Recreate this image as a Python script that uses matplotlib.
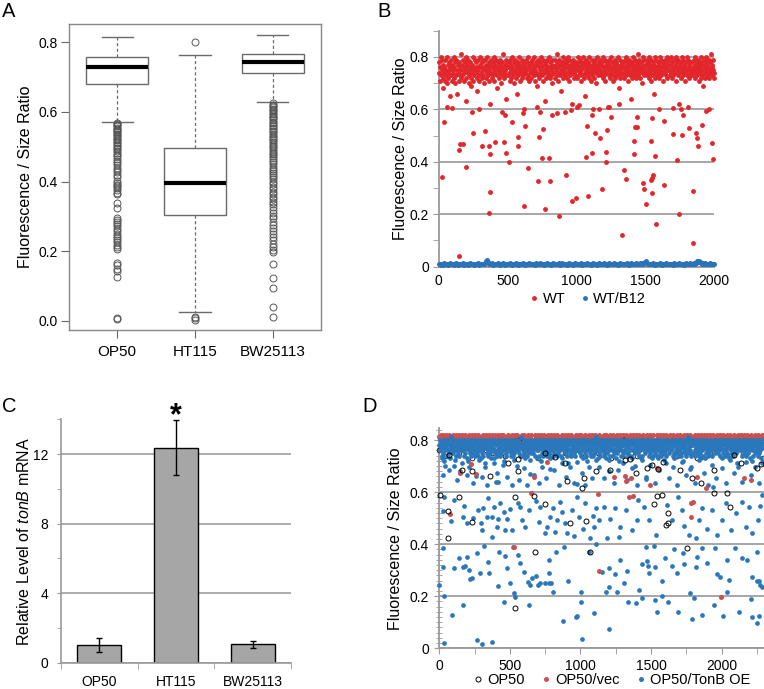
import numpy as np
import matplotlib
matplotlib.use("Agg")
import matplotlib.pyplot as plt
from matplotlib.lines import Line2D
from matplotlib.ticker import FixedLocator, MultipleLocator

plt.rcParams['font.family'] = ['Liberation Sans', 'DejaVu Sans']
plt.rcParams['mathtext.fontset'] = 'custom'
plt.rcParams['mathtext.rm'] = 'Liberation Sans'
plt.rcParams['mathtext.it'] = 'Liberation Sans:italic'

# ================= DATA =================
# ---- Panel A: box plot summaries
a_groups = ["OP50", "HT115", "BW25113"]
a_q1 = [0.680, 0.305, 0.710]
a_med = [0.730, 0.395, 0.742]
a_q3 = [0.757, 0.495, 0.766]
a_whislo = [0.570, 0.025, 0.627]
a_whishi = [0.815, 0.762, 0.820]
a_fliers_op50 = [0.568, 0.565, 0.561, 0.558, 0.555, 0.551, 0.548, 0.544, 0.541, 0.537,
                 0.534, 0.530, 0.526, 0.522, 0.518, 0.514, 0.510, 0.505, 0.501, 0.497,
                 0.492, 0.487, 0.482, 0.477, 0.472, 0.466, 0.460, 0.454, 0.447, 0.440,
                 0.433, 0.426, 0.420, 0.412, 0.401, 0.396, 0.390, 0.386, 0.381, 0.376,
                 0.368, 0.363, 0.337, 0.323, 0.296, 0.290, 0.284, 0.279, 0.272, 0.265,
                 0.258, 0.250, 0.245, 0.239, 0.232, 0.226, 0.219, 0.213, 0.207, 0.167,
                 0.160, 0.150, 0.142, 0.127, 0.008, 0.006]
a_fliers_ht115 = [0.800, 0.012, 0.008, 0.004]
a_fliers_bw = [0.625, 0.621, 0.617, 0.613, 0.609, 0.605, 0.601, 0.597, 0.593, 0.589,
               0.585, 0.581, 0.576, 0.572, 0.568, 0.563, 0.559, 0.555, 0.550, 0.546,
               0.541, 0.537, 0.532, 0.527, 0.523, 0.518, 0.513, 0.508, 0.503, 0.498,
               0.493, 0.488, 0.483, 0.478, 0.472, 0.467, 0.461, 0.455, 0.449, 0.443,
               0.437, 0.431, 0.425, 0.419, 0.412, 0.406, 0.399, 0.392, 0.385, 0.378,
               0.371, 0.364, 0.357, 0.349, 0.342, 0.335, 0.327, 0.319, 0.311, 0.302,
               0.294, 0.285, 0.276, 0.267, 0.258, 0.249, 0.240, 0.231, 0.222, 0.213,
               0.204, 0.197, 0.163, 0.124, 0.094, 0.041, 0.011]
a_yticks = [0.0, 0.2, 0.4, 0.6, 0.8]

# ---- Panel B: WT cells (sample order), values x100 in the dense band
b_wt_band = """
74 78 71 76 80 73 75 79 72 77 68 74 76 79 71 75 73 80 70 77 74 72 78 75 65 76 79 73 71 77 75 74 80 72 76 78 70 73 79 75 66 74 77 71 78 76 73 75 81 72
77 73 79 75 71 74 78 76 63 80 72 75 77 74 79 70 73 76 78 75 72 69 77 74 80 71 76 73 79 75 74 78 72 67 76 75 79 73 71 77 80 74 76 72 78 75 73 79 70 76
75 79 72 77 74 80 76 73 78 71 75 62 77 79 74 72 76 78 73 75 80 71 77 74 79 76 73 68 75 78 72 76 74 79 77 70 75 73 78 76 81 74 72 77 75 79 73 64 76 78
73 76 78 74 71 79 75 77 72 80 76 73 74 78 70 75 79 77 72 76 74 66 78 73 75 80 77 71 76 74 79 72 75 78 73 77 60 76 74 79 75 72 78 73 80 76 71 77 74 75
78 72 75 79 74 77 73 76 80 71 75 78 74 69 77 73 79 76 72 75 78 74 80 76 73 77 71 79 75 74 63 78 76 72 77 75 79 73 74 80 76 72 78 75 73 77 79 70 76 74
76 74 79 72 77 75 81 73 78 76 71 74 79 77 73 75 67 78 76 72 80 74 77 75 79 73 76 78 72 74 77 80 75 71 79 76 73 77 74 78 62 75 79 72 76 74 77 73 78 75
72 77 75 80 73 76 78 74 79 71 75 77 73 76 80 72 78 74 65 77 75 79 73 76 74 78 72 80 75 77 71 76 79 74 73 77 75 78 72 76 79 74 70 77 75 80 73 76 78 74
79 75 73 77 74 78 72 76 80 75 73 79 71 77 74 76 78 61 75 73 79 77 72 76 74 80 75 78 73 71 77 76 79 74 72 75 78 73 77 80 76 74 68 79 75 72 77 73 76 78
74 78 76 72 79 75 77 73 80 74 76 71 78 75 79 73 77 74 64 76 78 72 75 80 77 73 79 74 76 72 78 75 81 73 77 74 79 76 72 75 78 70 77 74 80 76 73 79 75 77
77 74 79 73 76 78 72 75 80 74 77 71 79 76 73 78 75 66 77 74 80 72 76 79 75 73 78 74 77 72 76 80 75 79 73 74 78 76 71 77 75 79 74 73 78 76 80 72 75 77
75 79 73 77 74 80 76 72 78 75 73 79 76 74 77 71 80 75 78 73 76 79 74 62 77 75 72 78 76 80 74 73 79 75 77 71 76 78 74 80 73 75 79 77 72 76 74 78 75 73
78 73 76 74 79 75 77 72 80 76 74 78 73 75 79 71 77 76 74 80 72 78 75 73 69 77 79 74 76 72 78 75 80 73 77 74 76 79 72 75 78 74 81 77 73 76 79 75 74 72
"""
b_wt_out_x = [22, 41, 150, 155, 179, 150, 198, 251, 312, 336, 365, 372, 372, 365, 409, 474, 488,
              513, 530, 481, 573, 578, 619, 626, 646, 718, 730, 747, 759, 771, 800, 805, 875,
              924, 965, 996, 1066, 1074, 1081, 1115, 1115, 1134, 1170, 1187, 1211, 1214, 1221,
              1330, 1342, 1359, 1417, 1424, 1436, 1419, 1480, 1492, 1501, 1538, 1545, 1553,
              1538, 1545, 1545, 1574, 1569, 1635, 1635, 1702, 1727, 1746, 1763, 1775, 1819,
              1843, 1848, 1867, 1872, 1884, 1913, 1981, 1988, 1940,
              60, 100, 240, 290, 460, 610, 710, 735, 820, 860, 915, 962, 1004, 1020, 1118,
              1160, 1236, 1250, 1310, 1440, 1597, 1700, 1760, 1810, 1960]
b_wt_out_y = [0.341, 0.550, 0.446, 0.467, 0.469, 0.041, 0.382, 0.510, 0.461, 0.516, 0.461, 0.430,
              0.284, 0.206, 0.477, 0.477, 0.433, 0.399, 0.550, 0.580, 0.494, 0.461, 0.232,
              0.535, 0.376, 0.325, 0.494, 0.414, 0.525, 0.219, 0.414, 0.325, 0.195, 0.348,
              0.250, 0.261, 0.418, 0.538, 0.268, 0.433, 0.577, 0.510, 0.490, 0.297, 0.439,
              0.401, 0.522, 0.121, 0.367, 0.335, 0.478, 0.531, 0.531, 0.429, 0.321, 0.298,
              0.238, 0.329, 0.338, 0.348, 0.478, 0.567, 0.280, 0.163, 0.423, 0.311, 0.554,
              0.506, 0.408, 0.200, 0.501, 0.580, 0.530, 0.092, 0.290, 0.510, 0.490, 0.459,
              0.541, 0.471, 0.410, 0.595,
              0.610, 0.605, 0.590, 0.600, 0.590, 0.585, 0.610, 0.590, 0.580, 0.585, 0.590,
              0.597, 0.610, 0.615, 0.600, 0.600, 0.610, 0.570, 0.620, 0.570, 0.600, 0.605,
              0.600, 0.610, 0.600]
# ---- Panel B: WT/B12 cells (sample order), values x1000
b_b12_band = """
09 11 08 12 10 07 13 09 11 10 08 12 14 09 10 11 07 12 09 13 10 08 11 12 09 10 13 08 11 09 12 10 07 11 13 09 10 12 08 11 10 09 13 11 08 12 10 09 11 10
16 22 25 18 12 10 09 11 13 08 10 12 09 11 14 10 08 12 11 09 13 10 07 11 12 09 10 13 11 08 12 10 09 11 14 10 08 12 11 09 10 13 11 08 12 10 09 11 13 10
11 09 12 10 08 13 11 09 10 12 14 09 11 10 08 12 10 13 09 11 10 12 08 11 13 09 10 11 12 09 15 10 08 11 13 10 09 12 11 08 10 13 09 11 12 10 08 11 14 10
09 12 10 11 13 08 10 12 09 11 10 14 09 12 10 08 11 13 10 09 12 11 08 10 13 12 09 11 10 15 09 12 11 08 10 13 11 09 12 10 14 11 09 10 12 08 11 13 10 09
12 10 09 11 13 10 08 12 11 14 09 10 12 11 13 10 09 12 14 11 10 13 12 15 18 23 16 12 10 11 09 12 10 13 11 08 10 12 09 11 13 10 08 12 11 10 09 13 11 10
09 12 10 11 08 13 10 09 12 11 10 13 09 11 12 10 08 11 13 10 09 12 11 14 10 09 12 13 11 16 20 18 21 17 19 15 12 14 11 13 10 12 09 11 13 10 12 11 09 12
"""
b_yticks = [0.0, 0.2, 0.4, 0.6, 0.8]
b_yticklabels = ["0", "0.2", "0.4", "0.6", "0.8"]
b_xticks = [0, 500, 1000, 1500, 2000]

# ---- Panel C: qPCR
c_groups = ["OP50", "HT115", "BW25113"]
c_vals = [1.00, 12.35, 1.05]
c_err_low = [0.60, 10.80, 0.85]
c_err_high = [1.40, 13.95, 1.25]
c_yticks = [0, 4, 8, 12]

# ---- Panel D
d_oe_band = """
78 80 76 79 77 74 78 80 75 77 72 79 80 76 78 77 74 79 76 80 75 78 76 73 79 77 81 76 80 75 78 70 77 79 76 80 74 78 77 79 76 75 80 74 78 68 79 77 76 80
79 76 78 77 74 80 75 79 77 73 78 80 72 76 79 77 75 78 80 74 79 76 77 75 80 78 74 79 76 66 78 80 75 77 74 79 76 78 80 73 77 75 79 76 74 80 78 77 71 79
80 77 75 79 76 78 74 80 77 79 75 73 78 80 76 79 77 73 76 80 75 79 64 78 76 74 80 75 77 79 76 78 74 80 75 77 79 76 78 72 80 77 76 79 74 75 80 77 78 76
76 79 78 80 75 74 77 79 80 76 74 78 75 79 80 77 76 70 78 79 76 80 77 75 78 74 81 79 74 77 76 78 80 75 79 77 73 78 76 74 80 75 77 79 78 76 67 80 77 75
79 78 76 75 80 77 79 74 78 80 76 73 79 76 77 80 74 78 79 72 77 80 75 78 76 74 77 80 78 79 75 76 74 80 77 78 76 79 75 80 69 77 78 79 76 74 80 78 75 77
77 80 79 78 76 74 80 75 78 77 76 79 80 74 78 73 77 80 79 76 78 75 77 80 76 79 74 77 78 71 80 76 75 79 78 74 80 77 76 78 75 79 80 74 77 78 76 79 63 80
79 77 76 80 78 75 74 79 76 78 80 73 79 77 75 80 78 76 74 72 79 78 80 77 76 75 78 74 79 80 76 77 78 74 75 80 76 79 77 81 78 80 73 76 79 75 78 80 74 77
80 76 79 77 78 75 80 74 79 76 73 78 80 75 77 79 76 68 80 78 74 79 77 76 80 74 78 75 79 76 80 77 73 78 75 79 80 76 78 72 77 79 74 80 78 76 75 79 74 80
78 79 76 77 80 75 78 74 75 79 80 77 76 78 74 79 80 73 78 76 77 79 70 80 75 76 78 79 77 80 75 74 78 79 76 80 77 73 78 74 79 80 76 78 75 77 79 65 80 76
78 77 80 74 79 76 75 78 80 73 77 79 76 74 80 78 75 79 77 76 80 74 78 73 79 76 80 77 75 78 74 79 76 80 78 77 75 79 76 80 74 71 79 78 77 80 75 76 79 78
76 79 77 78 80 74 79 75 73 78 80 76 79 77 75 80 74 78 79 76 77 80 75 74 79 78 72 80 76 77 79 75 78 80 74 76 79 81 77 80 75 78 69 76 79 74 80 78 75 79
80 78 76 74 79 77 80 75 78 76 79 74 80 77 75 78 73 79 80 76 78 74 77 79 80 73 78 75 76 79 80 77 74 78 75 79 80 76 78 74 77 79 62 80 78 76 75 79 77 80
77 79 78 75 80 76 79 74 77 78 80 73 79 76 75 80 78 74 79 77 76 80 78 75 79 74 73 80 78 77 79 76 75 80 78 74 79 76 77 80 78 75 79 71 76 80 77 78 79 76
79 80 77 76 78 74 80 79 75 77 78 76 80 79 74 78 77 75 80 79 76 73 78 77 80 79 72 76 78 74 80 79 77 75 78 76 80 79 74 77 78 75 80 79 76 73 78 77 80 79
"""
d_oe_out_x = [33, 88, 166, 265, 301, 372, 455, 533, 637, 874, 966, 978, 1011, 1004, 1094, 33, 0,
              28, 28, 104, 142, 170, 183, 199, 213, 218, 232, 265, 289, 300, 320, 348, 355, 376,
              419, 426, 466, 483, 502, 521, 526, 561, 573, 597, 627, 644, 656, 682, 696, 715,
              750, 774, 793, 803, 774, 774, 826, 880, 911, 951, 1004, 1063, 1110,
              28, 33, 81, 104, 166, 178, 194, 242, 277, 294, 313, 336, 348, 372, 384, 407, 419,
              431, 455, 466, 483, 502, 516, 554, 573, 587, 604, 632, 686, 703, 715, 750, 762,
              786, 803, 821, 833, 857, 868, 887, 904, 940, 975, 987, 1018, 1034, 1070, 1089,
              1112, 1094,
              1200, 1338, 1390, 1437, 1527, 1544, 1579, 1622, 1693, 1776, 1792, 1804, 1863,
              1946, 2012, 2036, 2124, 2206, 2214, 2251, 2266, 2270, 2289, 2249,
              1153, 1200, 1182, 1200, 1243, 1260, 1283, 1307, 1331, 1414, 1433, 1461, 1473,
              1480, 1485, 1520, 1527, 1579, 1598, 1650, 1662, 1686, 1728, 1733, 1816, 1823,
              1863, 1899, 1953, 1970, 1986, 2041, 2053, 2095, 2147, 2183, 2218, 2249, 2266,
              1130, 1165, 1189, 1212, 1243, 1271, 1283, 1319, 1366, 1402, 1409, 1449, 1485,
              1532, 1615, 1650, 1693, 1716, 1733, 1769, 1816, 1840, 1859, 1899, 1930, 1970,
              2005, 2029, 2064, 2100, 2143, 2171, 2195, 2218, 2254, 2270, 2289,
              17, 40, 24, 71, 112, 123, 159, 194, 213, 242, 284, 301, 324, 341, 384, 407, 419,
              450, 478, 514, 530, 568, 597, 620, 644, 668, 703, 727, 758, 786, 814, 845, 869,
              900, 923, 952, 975, 1011, 1035, 1058, 1082, 1112,
              1130, 1165, 1200, 1236, 1267, 1300, 1331, 1366, 1402, 1433, 1461, 1496, 1527,
              1556, 1591, 1627, 1655, 1686, 1716, 1745, 1780, 1811, 1840, 1875, 1906, 1934,
              1963, 2001, 2029, 2057, 2088, 2119, 2147, 2176, 2206, 2237, 2266, 2289]
d_oe_out_y = [0.021, 0.128, 0.166, 0.031, 0.016, 0.026, 0.179, 0.198, 0.166, 0.105, 0.121, 0.124,
              0.035, 0.179, 0.137, 0.200, 0.245,
              0.384, 0.313, 0.308, 0.345, 0.311, 0.316, 0.349, 0.301, 0.265, 0.269, 0.365,
              0.291, 0.454, 0.393, 0.332, 0.291, 0.426, 0.240, 0.371, 0.354, 0.308, 0.249,
              0.389, 0.211, 0.358, 0.329, 0.294, 0.256, 0.243, 0.269, 0.277, 0.245, 0.251,
              0.252, 0.252, 0.252, 0.217, 0.288, 0.339, 0.371, 0.389, 0.258, 0.431, 0.217,
              0.371, 0.399,
              0.528, 0.580, 0.489, 0.569, 0.505, 0.548, 0.480, 0.499, 0.531, 0.480, 0.540,
              0.505, 0.576, 0.505, 0.541, 0.467, 0.497, 0.557, 0.525, 0.454, 0.496, 0.534,
              0.454, 0.559, 0.541, 0.493, 0.464, 0.531, 0.567, 0.486, 0.541, 0.441, 0.467,
              0.505, 0.540, 0.448, 0.493, 0.563, 0.525, 0.482, 0.441, 0.531, 0.582, 0.505,
              0.457, 0.557, 0.422, 0.509, 0.537, 0.467,
              0.076, 0.179, 0.175, 0.192, 0.185, 0.138, 0.201, 0.179, 0.138, 0.211, 0.111,
              0.192, 0.127, 0.166, 0.124, 0.217, 0.141, 0.188, 0.121, 0.096, 0.124, 0.243,
              0.234, 0.258,
              0.294, 0.307, 0.217, 0.237, 0.285, 0.217, 0.339, 0.252, 0.298, 0.224, 0.324,
              0.390, 0.336, 0.316, 0.288, 0.393, 0.313, 0.260, 0.345, 0.316, 0.380, 0.291,
              0.365, 0.324, 0.313, 0.352, 0.384, 0.326, 0.387, 0.284, 0.275, 0.339, 0.262,
              0.387, 0.345, 0.339, 0.275, 0.371, 0.258,
              0.492, 0.543, 0.422, 0.495, 0.537, 0.429, 0.464, 0.531, 0.454, 0.492, 0.569,
              0.543, 0.492, 0.435, 0.551, 0.492, 0.580, 0.531, 0.470, 0.435, 0.422, 0.492,
              0.537, 0.460, 0.531, 0.435, 0.492, 0.557, 0.454, 0.518, 0.563, 0.467, 0.541,
              0.441, 0.492, 0.546, 0.588,
              0.730, 0.700, 0.665, 0.684, 0.723, 0.646, 0.711, 0.665, 0.697, 0.633, 0.723,
              0.659, 0.697, 0.627, 0.713, 0.672, 0.640, 0.704, 0.659, 0.627, 0.723, 0.646,
              0.691, 0.627, 0.723, 0.665, 0.633, 0.697, 0.653, 0.730, 0.684, 0.627, 0.711,
              0.659, 0.697, 0.633, 0.717, 0.672, 0.627, 0.697, 0.653, 0.723,
              0.697, 0.653, 0.723, 0.633, 0.684, 0.711, 0.646, 0.691, 0.627, 0.723, 0.659,
              0.704, 0.633, 0.684, 0.723, 0.653, 0.697, 0.627, 0.717, 0.665, 0.697, 0.633,
              0.723, 0.672, 0.627, 0.704, 0.653, 0.691, 0.633, 0.723, 0.672, 0.697, 0.640,
              0.717, 0.665, 0.697, 0.633, 0.711]
d_vec_band = """
81 82 80 82 81 79 82 80 81 82 78 81 80 82 81 82 79 80 82 81 80 82 81 79 82 80 81 82 80 81 82 78 81 82 80 81 82 79 81 80 82 81 80 82 79 81 82 80 81 82
80 82 81 79 82 81 80 82 81 82 78 80 81 82 80 81 79 82 81 80 82 81 82 79 80 81 82 80 82 81 79 81 82 80 81 82 80 78 82 81 80 82 81 79 82 81 80 82 81 80
82 81 80 82 79 81 82 80 81 82 81 79 80 82 81 80 82 81 78 82 80 81 82 81 79 80 82 81 80 82 81 82 79 81 80 82 81 80 82 79 81 82 80 81 82 78 81 80 82 81
81 80 82 81 82 79 80 81 82 80 81 82 79 81 82 80 81 82 80 78 82 81 80 82 81 79 82 80 81 82 81 80 82 79 81 82 80 81 82 81 79 80 82 81 80 82 81 78 82 80
80 82 81 80 82 79 81 82 80 81 82 81 79 82 80 81 82 80 81 78 82 81 80 82 81 79 82 80 81 82 80 81 82 79 81 80 82 81 80 82 81 79 82 81 80 82 78 81 82 80
82 80 81 82 81 79 80 82 81 80 82 81 82 79 80 81 82 80 81 82 78 81 80 82 81 79 82 80 81 82 81 80 82 79 81 82 80 81 82 80 79 81 82 80 81 82 81 80 82 81
"""
d_vec_out_x = [76, 147, 223, 258, 530, 651, 670, 762, 1129, 1124, 1236, 1318, 1323, 1359, 1370,
               1491, 1543, 1780, 1797, 1785, 1827, 1886, 1998, 2159, 2206, 1347]
d_vec_out_y = [0.515, 0.675, 0.707, 0.670, 0.390, 0.598, 0.658, 0.717, 0.298, 0.591, 0.657,
               0.662, 0.644, 0.653, 0.585, 0.627, 0.691, 0.557, 0.561, 0.505, 0.659, 0.617,
               0.196, 0.653, 0.646, 0.582]
d_op50_band = """
76 74 78 75 77 73 79 76 75 78 74 77 80 75 76 73 78 74 77 75 79 76 74 78 75 77 73 76 80 75 74 78 76 77 75 79 74 76 78 73 77 75 76 79 74 78 75 77 76 73
"""
d_op50_out_x = [5, 64, 64, 230, 537, 675, 746, 928, 1009, 1042, 1070, 1620, 1520, 1543, 1752,
                2060, 2041, 1574, 1603, 1622, 1946, 142, 537, 672,
                71, 159, 230, 360, 561, 490, 554, 751, 822, 893, 905, 1027, 1110, 1212, 1318,
                1354, 1396, 1472, 1508, 1548, 1586, 1702, 1792, 1856, 1946, 2088, 2135, 2253,
                2282]
d_op50_out_y = [0.589, 0.527, 0.424, 0.484, 0.156, 0.369, 0.554, 0.480, 0.617, 0.489, 0.371,
                0.483, 0.554, 0.585, 0.384, 0.544, 0.595, 0.588, 0.473, 0.520, 0.597, 0.580,
                0.582, 0.585,
                0.742, 0.685, 0.682, 0.662, 0.681, 0.713, 0.726, 0.749, 0.733, 0.710, 0.642,
                0.655, 0.682, 0.685, 0.723, 0.729, 0.674, 0.691, 0.704, 0.689, 0.717, 0.685,
                0.653, 0.633, 0.685, 0.742, 0.710, 0.691, 0.708]
d_yticks = [0.0, 0.2, 0.4, 0.6, 0.8]
d_yticklabels = ["0", "0.2", "0.4", "0.6", "0.8"]
d_xticks = [0, 500, 1000, 1500, 2000]

# ================= FIGURE =================
W, H = 764, 689
fig = plt.figure(figsize=(W / 100, H / 100), dpi=100)


def px_axes(l, t, r, b):
    return fig.add_axes([l / W, 1 - b / H, (r - l) / W, (b - t) / H])


def parse(s, scale):
    return np.array(s.split(), dtype=float) / scale


GRID = '#a6a6a6'
AXC = '#999999'

# ---------------- Panel A ----------------
axA = px_axes(69, 24, 321, 330)
fl = [a_fliers_op50, a_fliers_ht115, a_fliers_bw]
stats = []
for i in range(3):
    stats.append(dict(med=a_med[i], q1=a_q1[i], q3=a_q3[i], whislo=a_whislo[i],
                      whishi=a_whishi[i], fliers=fl[i], label=a_groups[i]))
axA.bxp(stats, positions=[1, 2, 3], widths=0.8, patch_artist=True,
        boxprops=dict(facecolor='white', edgecolor='#6a6a6a', lw=1.0),
        medianprops=dict(color='black', lw=3.0, solid_capstyle='butt'),
        whiskerprops=dict(color='#6a6a6a', lw=0.9, ls=(0, (2.5, 2))),
        capprops=dict(color='#6a6a6a', lw=1.0),
        flierprops=dict(marker='o', mfc='none', mec='#555555', ms=5, mew=0.7))
axA.set_xlim(0.38, 3.62)
axA.set_ylim(-0.026, 0.852)
axA.set_yticks(a_yticks)
axA.set_yticklabels(["%.1f" % v for v in a_yticks])
for s in axA.spines.values():
    s.set_color('#888888')
    s.set_linewidth(1.0)
axA.tick_params(axis='y', length=6, color='#666666', labelsize=10, pad=2)
axA.tick_params(axis='x', length=6, color='#666666', labelsize=11, pad=5)
axA.set_ylabel("Fluorescence / Size Ratio", fontsize=11.5)
axA.yaxis.set_label_coords((33 - 69) / 252, 0.5)

# ---------------- Panel B ----------------
axB = px_axes(438.7, 30.7, 714.3, 266.7)
RED_B = '#e3262b'
BLUE_B = '#2a72b9'
wt_band = parse(b_wt_band, 100)
b12_band = parse(b_b12_band, 1000)
axB.plot(np.linspace(1, 2000, len(b12_band)), b12_band, 'o', color=BLUE_B, ms=3.6, mew=0,
         clip_on=False, zorder=3)
axB.plot(np.linspace(1, 2000, len(wt_band)), wt_band, 'o', color=RED_B, ms=3.5, mew=0,
         clip_on=False, zorder=3)
axB.plot(b_wt_out_x, b_wt_out_y, 'o', color=RED_B, ms=3.5, mew=0, clip_on=False, zorder=3)
axB.set_xlim(0, 2000)
axB.set_ylim(0, 0.9)
axB.set_yticks(b_yticks)
axB.set_yticklabels(b_yticklabels)
axB.yaxis.set_minor_locator(FixedLocator([0.1, 0.3, 0.5, 0.7, 0.9]))
axB.set_xticks(b_xticks)
axB.set_xticklabels([str(v) for v in b_xticks])
axB.yaxis.grid(True, color=GRID, lw=1.4)
axB.set_axisbelow(True)
for k in ['top', 'right']:
    axB.spines[k].set_visible(False)
for k in ['left', 'bottom']:
    axB.spines[k].set_color(AXC)
    axB.spines[k].set_linewidth(1.3)
axB.tick_params(axis='y', which='both', length=4, color=AXC, labelsize=10, pad=3)
axB.tick_params(axis='x', length=0, labelsize=10, pad=5)
axB.set_ylabel("Fluorescence / Size Ratio", fontsize=11.5)
axB.yaxis.set_label_coords((408 - 438.7) / 275.6, 0.5)
hB = [Line2D([], [], marker='o', ls='none', color=RED_B, ms=3.5, mew=0),
      Line2D([], [], marker='o', ls='none', color=BLUE_B, ms=3.5, mew=0)]
fig.legend(hB, ["WT", "WT/B12"], loc='center', bbox_to_anchor=(588 / W, 1 - 299 / H),
           ncol=2, frameon=False, fontsize=10.5, handlelength=0.6, handletextpad=0.3,
           columnspacing=1.0, borderpad=0)

# ---------------- Panel C ----------------
axC = px_axes(61, 419.3, 291, 662.7)
xc = np.arange(1, 4)
vals = np.array(c_vals)
yerr = [vals - np.array(c_err_low), np.array(c_err_high) - vals]
axC.bar(xc, vals, width=0.57, color='#a6a6a6', edgecolor='black', lw=1.0, zorder=2)
axC.errorbar(xc, vals, yerr=yerr, fmt='none', ecolor='black', elinewidth=1.0, capsize=2,
             capthick=1.0, zorder=3)
axC.set_xlim(0.5, 3.5)
axC.set_ylim(0, 14)
axC.set_yticks(c_yticks)
axC.set_yticklabels([str(v) for v in c_yticks])
axC.yaxis.set_minor_locator(FixedLocator([2, 6, 10, 14]))
axC.set_xticks(xc)
axC.set_xticklabels(c_groups)
axC.xaxis.set_minor_locator(FixedLocator([0.5, 1.5, 2.5, 3.5]))
axC.yaxis.grid(True, color=GRID, lw=1.3)
axC.set_axisbelow(True)
for k in ['top', 'right']:
    axC.spines[k].set_visible(False)
for k in ['left', 'bottom']:
    axC.spines[k].set_color(AXC)
    axC.spines[k].set_linewidth(1.2)
axC.tick_params(axis='y', which='both', length=3, color=AXC, labelsize=10, pad=6)
axC.tick_params(axis='x', which='major', length=0, labelsize=10, pad=9)
axC.tick_params(axis='x', which='minor', length=4, color=AXC)
axC.set_ylabel(r"Relative Level of $\it{tonB}$ mRNA", fontsize=11.5)
axC.yaxis.set_label_coords((32 - 61) / 230, 0.5)
axC.text(2, 14.2, "*", ha='center', va='center', fontsize=22, fontweight='bold',
         clip_on=False)

# ---------------- Panel D ----------------
axD = px_axes(439.3, 428.3, 764, 648.3)
RED_D = '#c9514f'
BLUE_D = '#2b77bb'
vec_band = parse(d_vec_band, 100)
oe_band = parse(d_oe_band, 100)
op_band = parse(d_op50_band, 100)
axD.plot(np.linspace(1, 2290, len(vec_band)), vec_band, 'o', color=RED_D, ms=3.6, mew=0,
         clip_on=False, zorder=3)
axD.plot(np.linspace(1, 2290, len(op_band)), op_band, 'o', mfc='none', mec='black', ms=3.4,
         mew=0.6, clip_on=False, zorder=3.5)
axD.plot(d_vec_out_x, d_vec_out_y, 'o', color=RED_D, ms=3.6, mew=0, clip_on=False, zorder=4.5)
axD.plot(np.linspace(1, 2290, len(oe_band)), oe_band, 'o', color=BLUE_D, ms=3.4, mew=0,
         clip_on=False, zorder=4)
axD.plot(d_oe_out_x, d_oe_out_y, 'o', color=BLUE_D, ms=3.4, mew=0, clip_on=False, zorder=4)
axD.plot(d_op50_out_x, d_op50_out_y, 'o', mfc='none', mec='black', ms=3.6, mew=0.7,
         clip_on=False, zorder=5)
axD.set_xlim(0, 2300)
axD.set_ylim(0, 0.845)
axD.set_yticks(d_yticks)
axD.set_yticklabels(d_yticklabels)
axD.yaxis.set_minor_locator(MultipleLocator(0.02))
axD.set_xticks(d_xticks)
axD.set_xticklabels([str(v) for v in d_xticks])
axD.xaxis.set_minor_locator(FixedLocator([250, 750, 1250, 1750, 2250]))
axD.yaxis.grid(True, color=GRID, lw=1.4)
axD.set_axisbelow(True)
for k in ['top', 'right']:
    axD.spines[k].set_visible(False)
for k in ['left', 'bottom']:
    axD.spines[k].set_color(AXC)
    axD.spines[k].set_linewidth(1.3)
axD.tick_params(axis='y', which='major', direction='inout', length=7, color=AXC,
                labelsize=10, pad=4)
axD.tick_params(axis='y', which='minor', direction='inout', length=4, color=AXC)
axD.tick_params(axis='x', which='both', direction='out', length=4, color=AXC,
                labelsize=10, pad=4)
axD.set_ylabel("Fluorescence / Size Ratio", fontsize=11.5)
axD.yaxis.set_label_coords((403 - 439.3) / 324.7, 0.5)
hD = [Line2D([], [], marker='o', ls='none', mfc='none', mec='black', ms=3.6, mew=0.7),
      Line2D([], [], marker='o', ls='none', color=RED_D, ms=3.6, mew=0),
      Line2D([], [], marker='o', ls='none', color=BLUE_D, ms=3.6, mew=0)]
fig.legend(hD, ["OP50", "OP50/vec", "OP50/TonB OE"], loc='center',
           bbox_to_anchor=(612 / W, 1 - 680 / H), ncol=3, frameon=False, fontsize=10.5,
           handlelength=0.6, handletextpad=0.3, columnspacing=1.2, borderpad=0)

# ---------------- Panel letters ----------------
for lab, x, y in [("A", 2, 2), ("B", 377, 2), ("C", 2, 397), ("D", 362, 397)]:
    fig.text(x / W, 1 - y / H, lab, fontsize=14.5, ha='left', va='top')

fig.savefig("out.png", dpi=100)
